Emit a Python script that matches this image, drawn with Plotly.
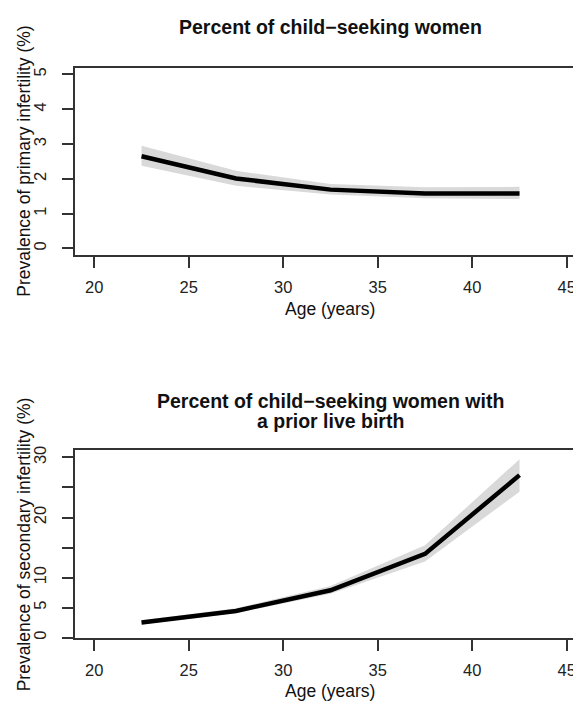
import plotly.graph_objects as go

# ---- data ----
ages = [22.5, 27.5, 32.5, 37.5, 42.5]

primary_est = [2.65, 2.01, 1.69, 1.58, 1.58]
primary_lo = [2.38, 1.80, 1.55, 1.44, 1.42]
primary_hi = [2.95, 2.23, 1.85, 1.76, 1.77]

secondary_est = [2.55, 4.46, 7.9, 13.95, 27.05]
secondary_lo = [2.2, 4.1, 7.3, 12.7, 24.3]
secondary_hi = [2.9, 4.9, 8.6, 15.4, 29.7]

x_ticks = [20, 25, 30, 35, 40, 45]
y1_ticks = [0, 1, 2, 3, 4, 5]
y2_ticks = [0, 5, 10, 15, 20, 25, 30]
y2_ticktext = ["0", "5", "10", "", "20", "", "30"]

title1 = "Percent of child\u2212seeking women"
title2a = "Percent of child\u2212seeking women with"
title2b = "a prior live birth"
ylab1 = "Prevalence of primary infertility (%)"
ylab2 = "Prevalence of secondary infertility (%)"
xlab = "Age (years)"

# ---- figure geometry (page body has an 8px margin) ----
OFF = 8
VW, VH = 581, 702
W, H = VW - OFF, VH - OFF
FONT = "Liberation Sans, Arial, Helvetica, sans-serif"
BAND = "#d9d9d9"
AX = "#333333"

def px_x(p):
    return (p - OFF) / W

def px_y(p):
    return 1 - (p - OFF) / H

fig = go.Figure()

def add_panel(xa, ya, est, lo, hi):
    fig.add_trace(go.Scatter(x=ages + ages[::-1], y=hi + lo[::-1], fill="toself",
                             fillcolor=BAND, line=dict(width=0), mode="lines",
                             hoverinfo="skip", showlegend=False, xaxis=xa, yaxis=ya))
    fig.add_trace(go.Scatter(x=ages, y=est, mode="lines",
                             line=dict(color="black", width=4.5),
                             showlegend=False, xaxis=xa, yaxis=ya))

add_panel("x", "y", primary_est, primary_lo, primary_hi)
add_panel("x2", "y2", secondary_est, secondary_lo, secondary_hi)

axis_common = dict(showgrid=False, zeroline=False, showline=True, linecolor=AX, linewidth=1.5,
                   ticks="outside", ticklen=11, tickwidth=1.5, tickcolor=AX,
                   tickfont=dict(family=FONT, size=16.5, color="#222"))

xr = [18.98, 18.98 + (VW - 75) / 18.9]

fig.update_layout(
    width=W, height=H,
    margin=dict(l=0, r=0, t=0, b=0),
    paper_bgcolor="white", plot_bgcolor="white",
    xaxis=dict(domain=[px_x(75), 1], range=xr, tickvals=x_ticks, mirror=True,
               anchor="y", ticklabelstandoff=5, **axis_common),
    yaxis=dict(domain=[px_y(253.5), px_y(64)], range=[-0.2, 5.2], tickvals=y1_ticks,
               tickangle=-90, anchor="x", ticklabelstandoff=10, **axis_common),
    xaxis2=dict(domain=[px_x(75), 1], range=xr, tickvals=x_ticks, mirror=True,
                anchor="y2", ticklabelstandoff=5, **axis_common),
    yaxis2=dict(domain=[px_y(639.5), px_y(450)], range=[-0.05, 31.2], tickvals=y2_ticks,
                ticktext=y2_ticktext, tickangle=-90, anchor="x2", ticklabelstandoff=10,
                **axis_common),
)

def ann(text, x, y, size, bold=False, angle=0):
    fig.add_annotation(text=f"<b>{text}</b>" if bold else text, xref="paper", yref="paper",
                       x=px_x(x), y=px_y(y), xanchor="center", yanchor="middle",
                       showarrow=False, textangle=angle,
                       font=dict(family=FONT, size=size, color="#111"))

ann(title1, 330, 23, 19.5, bold=True)
ann(title2a, 330, 400, 19.5, bold=True)
ann(title2b, 330, 421, 19.5, bold=True)
ann(ylab1, 24, 159, 17.5, angle=-90)
ann(ylab2, 24, 545, 17.5, angle=-90)
ann(xlab, 330, 308, 17.5)
ann(xlab, 330, 693, 17.5)

fig.write_html("out.html")
